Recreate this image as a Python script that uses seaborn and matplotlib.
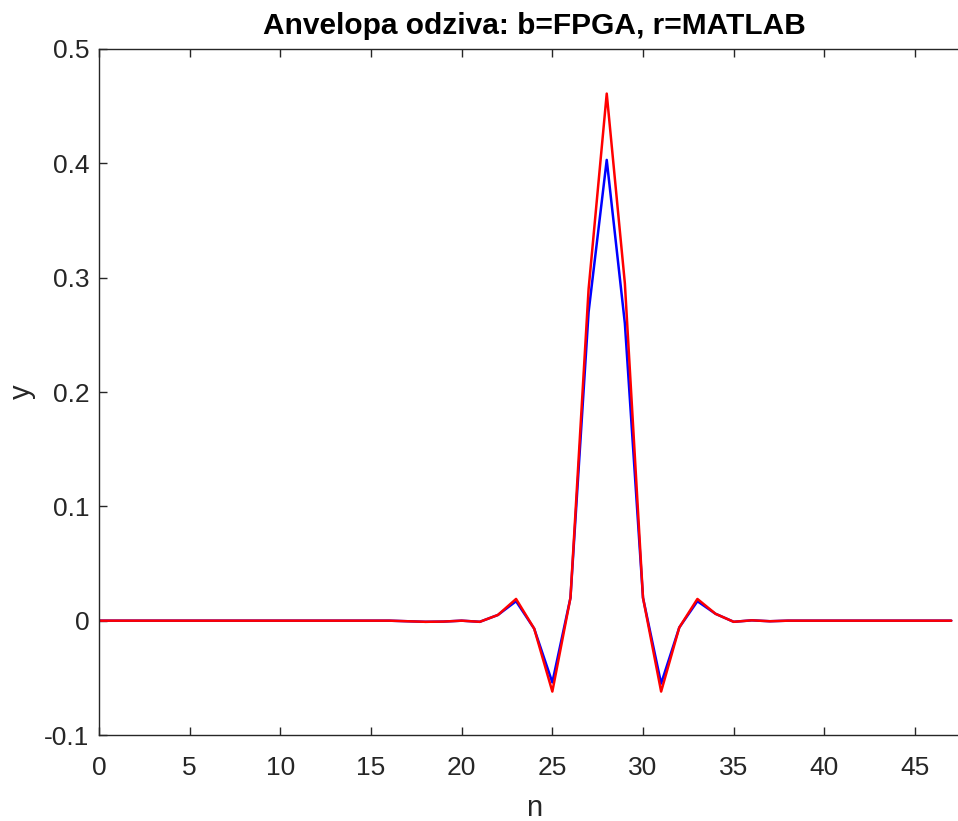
import numpy as np
import pandas as pd
import matplotlib
matplotlib.use("Agg")
import matplotlib.pyplot as plt
import seaborn as sns

n = list(range(0, 48))
fpga = [0.0, 0.0, 0.0, 0.0, 0.0, 0.0, 0.0, 0.0, 0.0, 0.0,
        0.0, 0.0, 0.0, 0.0, 0.0, 0.0, 0.0, -0.0005, -0.001, -0.0008,
        0.0, -0.001, 0.005, 0.017, -0.007, -0.054, 0.02, 0.27, 0.403, 0.26,
        0.02, -0.055, -0.006, 0.017, 0.006, -0.001, 0.0003, -0.0005, 0.0, 0.0,
        0.0, 0.0, 0.0, 0.0, 0.0, 0.0, 0.0, 0.0]
matlab = [0.0, 0.0, 0.0, 0.0, 0.0, 0.0, 0.0, 0.0, 0.0, 0.0,
          0.0, 0.0, 0.0, 0.0, 0.0, 0.0, 0.0, -0.0005, -0.001, -0.0008,
          0.0, -0.001, 0.005, 0.019, -0.007, -0.062, 0.02, 0.29, 0.461, 0.295,
          0.02, -0.062, -0.006, 0.019, 0.006, -0.001, 0.0003, -0.0005, 0.0, 0.0,
          0.0, 0.0, 0.0, 0.0, 0.0, 0.0, 0.0, 0.0]
xticks = [0, 5, 10, 15, 20, 25, 30, 35, 40, 45]
yticks = [-0.1, 0.0, 0.1, 0.2, 0.3, 0.4, 0.5]
ytick_labels = ["-0.1", "0", "0.1", "0.2", "0.3", "0.4", "0.5"]

sns.set_style("white")
plt.rcParams["font.family"] = ["Liberation Sans", "DejaVu Sans"]

W, H = 958, 821
fig = plt.figure(figsize=(W / 100, H / 100), dpi=100)
x0, x1 = 99, 99 + 48 * (915 - 99) / 45
y_top, y_bot = 49, 735
ax = fig.add_axes([x0 / W, 1 - y_bot / H, (x1 - x0) / W, (y_bot - y_top) / H])

df = pd.DataFrame({"n": n * 2,
                   "y": fpga + matlab,
                   "src": ["FPGA"] * len(n) + ["MATLAB"] * len(n)})
sns.lineplot(data=df, x="n", y="y", hue="src",
             palette={"FPGA": "#0000ff", "MATLAB": "#ff0000"},
             linewidth=1.8, legend=False, ax=ax)

gray = "#262626"
ax.set_xlim(0, 48)
ax.set_ylim(-0.1, 0.5)
ax.set_xticks(xticks)
ax.set_xticklabels([str(t) for t in xticks])
ax.set_yticks(yticks)
ax.set_yticklabels(ytick_labels)
for s in ax.spines.values():
    s.set_color(gray)
    s.set_linewidth(1.0)
ax.tick_params(direction="in", length=6, width=1.0, color=gray,
               labelcolor=gray, labelsize=19, top=True, right=True,
               bottom=True, left=True)
ax.tick_params(axis="x", pad=15)
ax.tick_params(axis="y", pad=7)
ax.set_xlabel("n", fontsize=21, color=gray, labelpad=10)
ax.set_ylabel("y", fontsize=21, color=gray, labelpad=6)
ax.set_title("Anvelopa odziva: b=FPGA, r=MATLAB", fontsize=21.5,
             fontweight="bold", color="#000000", pad=11)

fig.savefig("out.png", dpi=100)
